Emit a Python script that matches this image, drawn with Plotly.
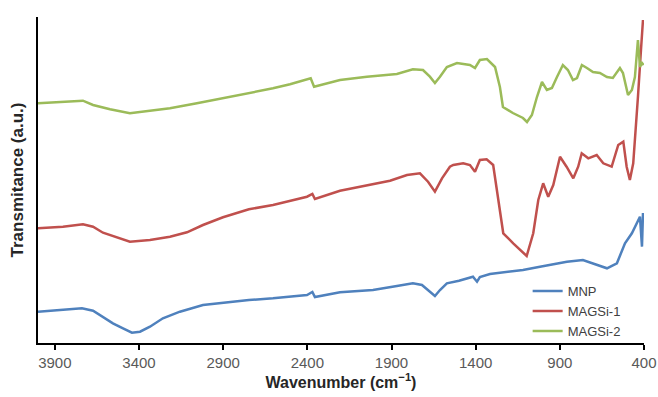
import plotly.graph_objects as go

# Wavenumber (cm-1) and transmittance (a.u.)
wn_mnp = [4000, 3852, 3739, 3673, 3614, 3555, 3495, 3442, 3394, 3335, 3258, 3157, 3020, 2901,
          2747, 2604, 2402, 2370, 2355, 2206, 2010, 1868, 1773, 1719, 1672, 1642, 1612, 1571,
          1499, 1416, 1392, 1375, 1315, 1119, 1018, 858, 763, 680, 620, 561, 513, 472, 442,
          424, 412, 406]
t_mnp = [31.3, 33, 34.7, 32.3, 26.3, 19.7, 14.7, 10.3, 11.3, 16.3, 24.7, 31.3, 38, 40.3,
         43, 44.7, 48, 51, 46, 50.7, 53, 57, 59.7, 58, 51.3, 47, 53, 59.7,
         62.3, 66.3, 61.3, 66, 69, 73, 76.3, 81.3, 83, 78, 74.7, 79.7, 99.7, 109.7, 119.7,
         126.3, 96.3, 130]

wn_m1 = [4000, 3852, 3733, 3673, 3614, 3531, 3454, 3335, 3216, 3115, 3020, 2901, 2747, 2604,
         2402, 2370, 2355, 2206, 2010, 1909, 1808, 1731, 1683, 1642, 1600, 1553, 1533, 1474,
         1434, 1404, 1375, 1335, 1296, 1266, 1236, 1177, 1119, 1097, 1058, 1028, 999, 969,
         939, 899, 860, 820, 791, 770, 731, 681, 642, 592, 553, 523, 503, 484, 464, 444,
         436, 418, 406]
t_m1 = [114.7, 116.3, 118.7, 116.3, 110.3, 105.7, 101.3, 103, 106.3, 110.7, 118, 125.7, 133.7, 138,
        146.3, 149, 144, 152.3, 158.7, 162.3, 168, 169.7, 161.3, 151.3, 164.7, 176.3, 178, 179.7,
        178, 171.3, 183, 183.7, 178, 143, 109.7, 99.7, 91, 87, 109.7, 143, 159.7, 146.3,
        158, 186.3, 176.3, 164.7, 176.3, 189.7, 184.7, 188, 179.7, 176.3, 198, 201.3, 176.3, 163, 179.7, 223,
        246, 293, 323]

wn_m2 = [4000, 3852, 3733, 3673, 3572, 3454, 3335, 3216, 3056, 2901, 2747, 2604, 2503, 2380,
         2360, 2206, 2046, 1868, 1773, 1713, 1672, 1642, 1612, 1571, 1511, 1434, 1404, 1375,
         1333, 1285, 1256, 1238, 1179, 1119, 1095, 1066, 1036, 1006, 977, 947, 917, 882,
         852, 822, 798, 769, 739, 703, 662, 620, 585, 543, 525, 495, 472, 454, 436, 424,
         412, 402]
t_m2 = [239.7, 241.3, 242.3, 238, 233.7, 229.7, 232, 234.7, 239.7, 244.7, 250.3, 254.7, 258.7, 264.7,
        256.3, 263, 266.3, 269, 273.7, 273, 266.3, 260, 266.3, 276, 280, 278, 275, 283,
        284, 276, 256, 236, 230, 225, 221, 228, 246, 261, 253, 255, 266, 278,
        273, 263, 265, 278, 275, 271, 270, 266, 265, 275, 270, 248, 253, 266, 303, 276,
        280, 278]

names = ["MNP", "MAGSi-1", "MAGSi-2"]
colors = ["#4F81BD", "#C0504D", "#9BBB59"]
tick_vals = [3900, 3400, 2900, 2400, 1900, 1400, 900, 400]
tick_text = [str(v) for v in tick_vals]

FONT = "Liberation Sans, Arial, sans-serif"

fig = go.Figure()
for wn, t, name, col in [(wn_mnp, t_mnp, names[0], colors[0]),
                         (wn_m1, t_m1, names[1], colors[1]),
                         (wn_m2, t_m2, names[2], colors[2])]:
    fig.add_trace(go.Scatter(x=wn, y=t, mode="lines", name=name,
                             line=dict(color=col, width=2.5)))

fig.update_layout(
    width=658, height=397,
    margin=dict(l=38, r=14, t=17, b=54),
    paper_bgcolor="white", plot_bgcolor="white",
    font=dict(family=FONT, size=14, color="#595959"),
    showlegend=True,
    legend=dict(x=0.808, y=0.205, xanchor="left", yanchor="top",
                bgcolor="rgba(0,0,0,0)", font=dict(size=13, color="#404040"),
                tracegroupgap=0),
    xaxis=dict(range=[4000, 400], tickmode="array", tickvals=tick_vals, ticktext=tick_text,
               automargin=False,
               showline=True, linecolor="black", linewidth=2, ticks="outside",
               tickcolor="black", tickwidth=2, ticklen=5, showgrid=False, zeroline=False,
               tickfont=dict(size=15, color="#595959"),
               title=dict(text="<b>Wavenumber (cm<sup>−1</sup>)</b>", standoff=4,
                          font=dict(size=16, color="#262626"))),
    yaxis=dict(range=[0, 326], showline=True, linecolor="black", linewidth=2,
               automargin=False,
               showticklabels=False, ticks="", showgrid=False, zeroline=False,
               title=dict(text="<b>Transmitance (a.u.)</b>", standoff=8,
                          font=dict(size=17, color="#262626"))),
)

fig.write_html("out.html")
